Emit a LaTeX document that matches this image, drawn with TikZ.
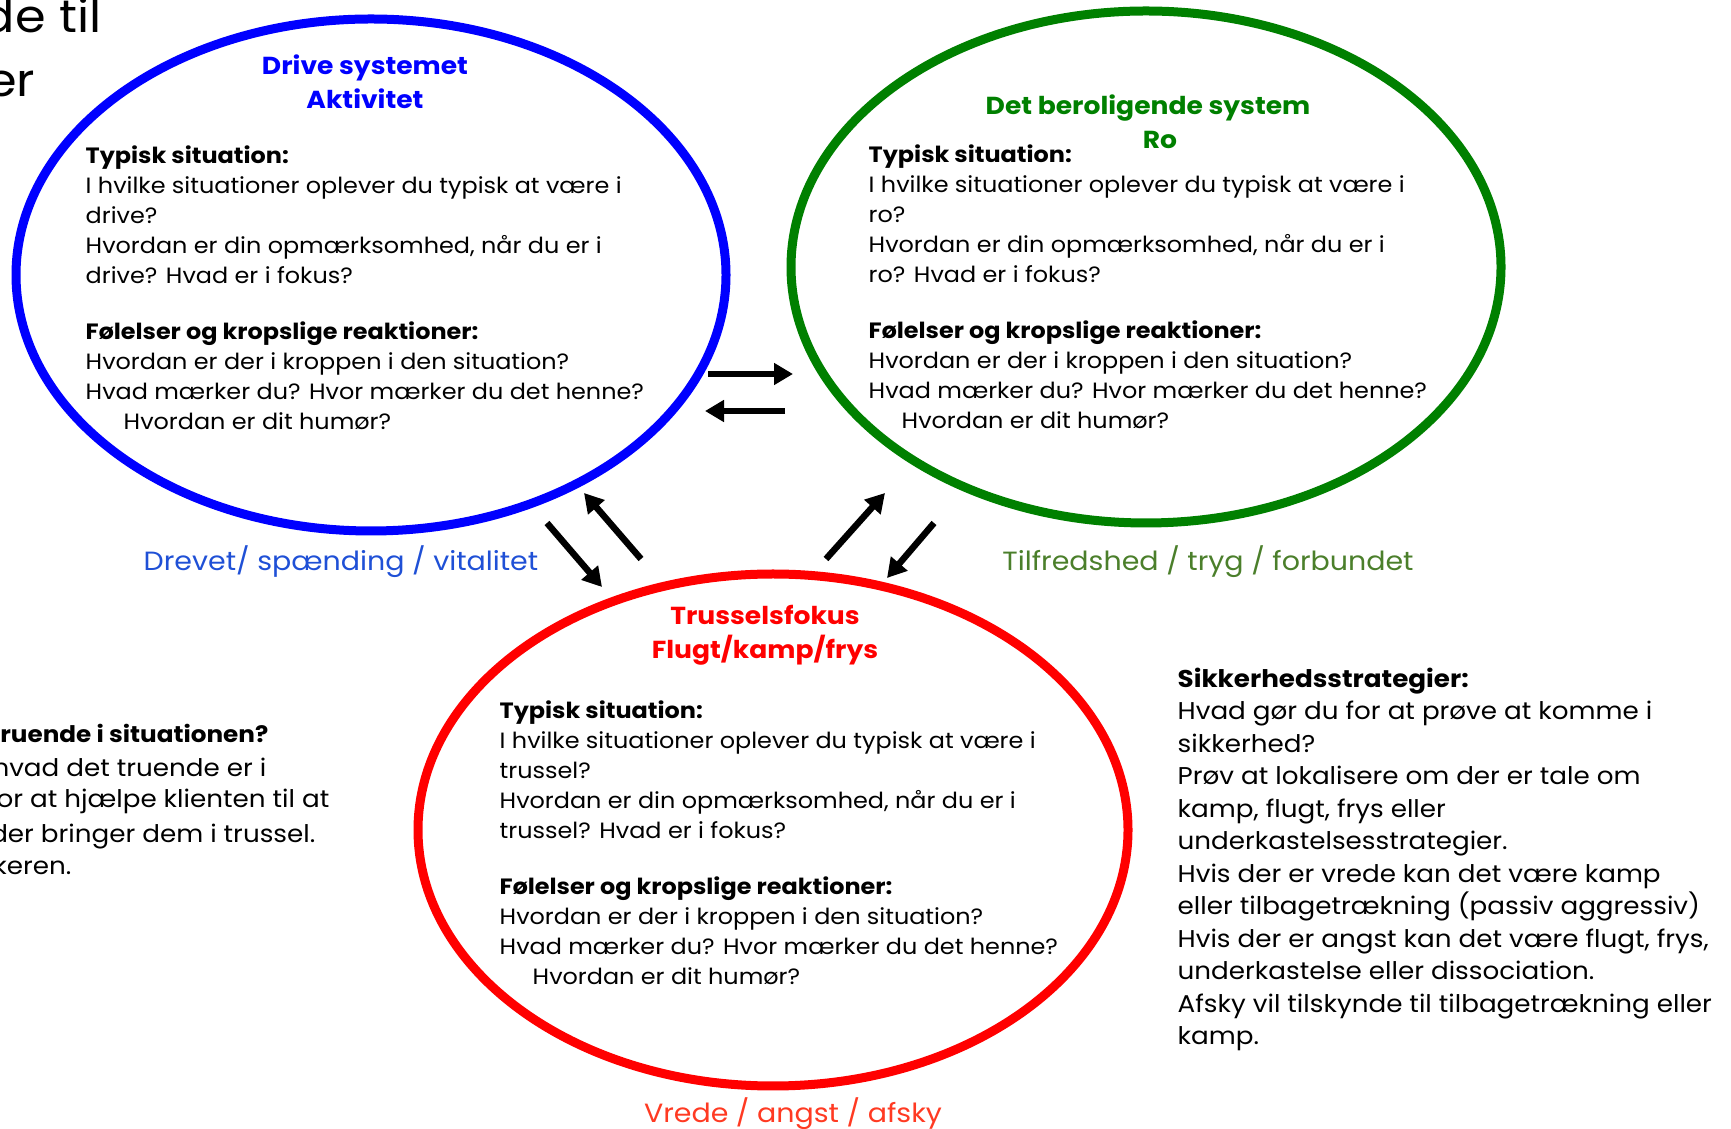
\documentclass[tikz,border=0pt]{standalone}
\usepackage{fontspec}
\setmainfont{Poppins}[FakeStretch=1.08]
\usetikzlibrary{arrows.meta}
\usetikzlibrary{shapes.geometric}

\definecolor{driveblue}{HTML}{0000FF}
\definecolor{calmgreen}{HTML}{008000}
\definecolor{threatred}{HTML}{FF0000}
\definecolor{drivelabel}{HTML}{1F50D6}
\definecolor{calmlabel}{HTML}{4B7F2B}
\definecolor{threatlabel}{HTML}{FF3A22}

\begin{document}
\begin{tikzpicture}[x=0.1mm, y=-0.1mm, >={Triangle[length=1.9mm,width=2.1mm]},
    system/.style={ellipse, draw=#1, line width=0.9mm, minimum width=71mm, minimum height=51.2mm, inner sep=0pt},
    heading/.style={align=center, inner sep=0pt, text=#1, font=\fontsize{7pt}{9.6pt}\selectfont\bfseries},
    body/.style={anchor=north west, align=left, inner sep=0pt, font=\fontsize{6.3pt}{8.55pt}\selectfont},
    side/.style={inner sep=0pt, font=\fontsize{6.9pt}{9.25pt}\selectfont},
    mood/.style={inner sep=0pt, text=#1, font=\fontsize{7.5pt}{10pt}\selectfont},
    flow/.style={->, line width=0.65mm}]

    \useasboundingbox (0,0) rectangle (1731,1129);
    \clip (0,0) rectangle (1731,1129);

    \node[system=driveblue] (drive) at (371,275) {};
    \node[system=calmgreen] (calm) at (1146,267) {};
    \node[system=threatred] (threat) at (773,830) {};

    \node[heading=driveblue] (drivetitle) at (365,82) {Drive systemet\\Aktivitet};
    \node[heading=calmgreen] (calmtitle) at (1148,122) {Det beroligende system\\\hspace*{2.4mm}Ro};
    \node[heading=threatred] (threattitle) at (765,635) {Trusselsfokus\\Flugt/kamp/frys};

    \node[body] (drivetext) at (85,145) {{\bfseries Typisk situation:}\\
        I hvilke situationer oplever du typisk at være i\\
        drive?\\
        Hvordan er din opmærksomhed, når du er i\\
        drive? Hvad er i fokus?\\[2.6mm]
        {\bfseries Følelser og kropslige reaktioner:}\\
        Hvordan er der i kroppen i den situation?\\
        Hvad mærker du? Hvor mærker du det henne?\\
        \hspace*{3.8mm}Hvordan er dit humør?};

    \node[body] (calmtext) at (868,144) {{\bfseries Typisk situation:}\\
        I hvilke situationer oplever du typisk at være i\\
        ro?\\
        Hvordan er din opmærksomhed, når du er i\\
        ro? Hvad er i fokus?\\[2.6mm]
        {\bfseries Følelser og kropslige reaktioner:}\\
        Hvordan er der i kroppen i den situation?\\
        Hvad mærker du? Hvor mærker du det henne?\\
        \hspace*{3.3mm}Hvordan er dit humør?};

    \node[body] (threattext) at (499,700) {{\bfseries Typisk situation:}\\
        I hvilke situationer oplever du typisk at være i\\
        trussel?\\
        Hvordan er din opmærksomhed, når du er i\\
        trussel? Hvad er i fokus?\\[2.6mm]
        {\bfseries Følelser og kropslige reaktioner:}\\
        Hvordan er der i kroppen i den situation?\\
        Hvad mærker du? Hvor mærker du det henne?\\
        \hspace*{3.3mm}Hvordan er dit humør?};

    \node[mood=drivelabel] (drivemood) at (341,562) {Drevet/ spænding / vitalitet};
    \node[mood=calmlabel] (calmmood) at (1208,562) {Tilfredshed / tryg / forbundet};
    \node[mood=threatlabel] (threatmood) at (793,1114) {Vrede / angst / afsky};

    \node[side, anchor=north west, align=left] (safety) at (1177,667) {{\bfseries Sikkerhedsstrategier:}\\
        Hvad gør du for at prøve at komme i\\
        sikkerhed?\\
        Prøv at lokalisere om der er tale om\\
        kamp, flugt, frys eller\\
        underkastelsesstrategier.\\
        Hvis der er vrede kan det være kamp\\
        eller tilbagetrækning (passiv aggressiv)\\
        Hvis der er angst kan det være flugt, frys,\\
        underkastelse eller dissociation.\\
        Afsky vil tilskynde til tilbagetrækning eller\\
        kamp.};

    \node[side, anchor=base east, font=\fontsize{6.5pt}{9.25pt}\selectfont\bfseries] (cut0) at (269,743) {ruende i situationen?};
    \foreach \xe/\yb/\txt [count=\i] in {267/777/{hvad det truende er i}, 330/808/{or at hjælpe klienten til at},
        316/843/{der bringer dem i trussel.}, 72/875/{keren.}}
        \node[side, anchor=base east] (cut\i) at (\xe,\yb) {\txt};

    \node[inner sep=0pt, anchor=base east, font=\fontsize{13pt}{15pt}\selectfont] (topa) at (102,33) {de til};
    \node[inner sep=0pt, anchor=base east, font=\fontsize{13pt}{15pt}\selectfont] (topb) at (36,97) {er};

    \coordinate (dc1) at (708,374);
    \coordinate (dc2) at (793,374);
    \coordinate (cd1) at (785,411);
    \coordinate (cd2) at (705,411);
    \coordinate (dt1) at (547,523);
    \coordinate (dt2) at (602,587);
    \coordinate (td1) at (641,559);
    \coordinate (td2) at (584,493);
    \coordinate (tc1) at (826,559);
    \coordinate (tc2) at (885,493);
    \coordinate (ct1) at (934,523);
    \coordinate (ct2) at (887,578);

    \draw[flow] (dc1) -- (dc2);
    \draw[flow] (cd1) -- (cd2);
    \draw[flow] (dt1) -- (dt2);
    \draw[flow] (td1) -- (td2);
    \draw[flow] (tc1) -- (tc2);
    \draw[flow] (ct1) -- (ct2);

\end{tikzpicture}
\end{document}
